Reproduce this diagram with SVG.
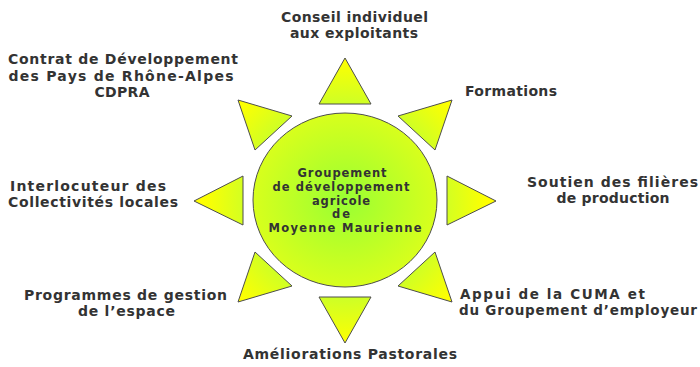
<svg xmlns="http://www.w3.org/2000/svg" width="700" height="367" viewBox="0 0 700 367">
  <defs>
    <radialGradient id="sunCore" cx="0.5" cy="0.5" r="0.5">
      <stop offset="0" stop-color="#99ff33"/>
      <stop offset="1" stop-color="#d8ff1c"/>
    </radialGradient>
    <radialGradient id="rayFill" gradientUnits="userSpaceOnUse" cx="345" cy="201" r="150">
      <stop offset="0.6" stop-color="#c6ff2c"/>
      <stop offset="0.95" stop-color="#ffff00"/>
    </radialGradient>
    <style>
      .ray { fill: url(#rayFill); stroke: #4d4d4d; stroke-width: 1; stroke-linejoin: miter; }
      .core { fill: url(#sunCore); stroke: #4d4d4d; stroke-width: 1; }
      .lbl { font-family: "DejaVu Sans", "Liberation Sans", sans-serif; font-weight: bold; font-size: 14px; fill: #333333; }
      .ctr { font-family: "DejaVu Sans", "Liberation Sans", sans-serif; font-weight: bold; font-size: 11.5px; fill: #333333; text-anchor: middle; }
      .mid { text-anchor: middle; }
    </style>
  </defs>
  <rect width="700" height="367" fill="#ffffff"/>

  <g id="rays">
    <polygon class="ray" points="345,58 371,104 319,104"/>
    <polygon class="ray" points="345,343 371,297 319,297"/>
    <polygon class="ray" points="194,201 243,176 243,225"/>
    <polygon class="ray" points="496,201 447,176 447,225"/>
    <polygon class="ray" points="238,100 292,116 255,150"/>
    <polygon class="ray" points="452,100 398,116 435,150"/>
    <polygon class="ray" points="238,302 292,286 255,252"/>
    <polygon class="ray" points="452,302 398,286 435,252"/>
  </g>

  <g id="centre">
    <ellipse class="core" cx="345" cy="200" rx="92" ry="87"/>
    <text class="ctr" x="342" y="177" textLength="89">Groupement</text>
    <text class="ctr" x="341" y="191" textLength="137">de développement</text>
    <text class="ctr" x="341" y="204.5" textLength="58">agricole</text>
    <text class="ctr" x="341" y="218" textLength="18">de</text>
    <text class="ctr" x="345" y="232" textLength="153">Moyenne Maurienne</text>
  </g>

  <g id="conseil">
    <text class="lbl mid" x="354.5" y="22" textLength="147">Conseil individuel</text>
    <text class="lbl mid" x="354" y="38" textLength="128">aux exploitants</text>
  </g>
  <g id="cdpra">
    <text class="lbl mid" x="123" y="64" textLength="230">Contrat de Développement</text>
    <text class="lbl mid" x="121" y="80.5" textLength="225">des Pays de Rhône-Alpes</text>
    <text class="lbl mid" x="122" y="97" textLength="55">CDPRA</text>
  </g>
  <g id="formations">
    <text class="lbl" x="465" y="96" textLength="92">Formations</text>
  </g>
  <g id="filieres">
    <text class="lbl mid" x="612.5" y="187" textLength="171">Soutien des filières</text>
    <text class="lbl mid" x="613" y="203" textLength="113">de production</text>
  </g>
  <g id="collectivites">
    <text class="lbl" x="10" y="191" textLength="156">Interlocuteur des</text>
    <text class="lbl" x="8" y="207" textLength="170">Collectivités locales</text>
  </g>
  <g id="espace">
    <text class="lbl mid" x="125.5" y="300" textLength="203">Programmes de gestion</text>
    <text class="lbl mid" x="126.5" y="316" textLength="97">de l’espace</text>
  </g>
  <g id="cuma">
    <text class="lbl" x="460" y="299" textLength="185" style="font-size:13.5px">Appui de la CUMA et</text>
    <text class="lbl" x="459" y="314.5" textLength="238" style="font-size:13.5px">du Groupement d’employeur</text>
  </g>
  <g id="pastorales">
    <text class="lbl mid" x="350" y="359" textLength="214">Améliorations Pastorales</text>
  </g>
</svg>
